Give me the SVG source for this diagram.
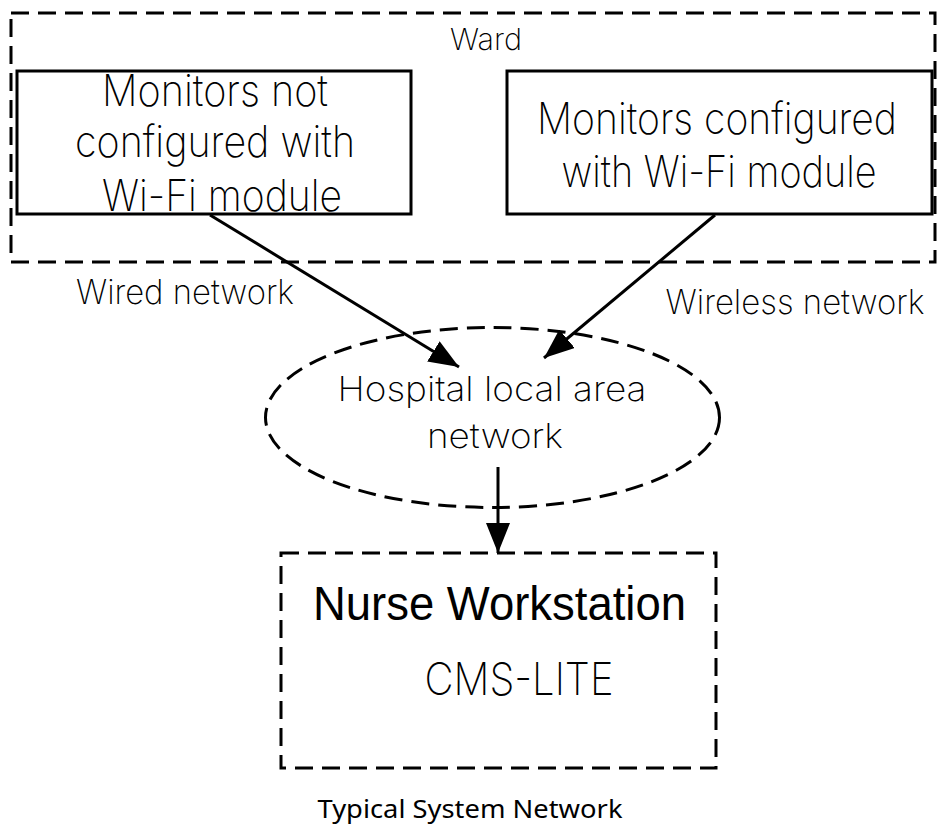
<svg xmlns="http://www.w3.org/2000/svg" width="938" height="830" viewBox="0 0 938 830">
<defs>
<style>
.dash{fill:none;stroke:#000;stroke-width:3;stroke-dasharray:18 9}
.box{fill:#fff;stroke:#000;stroke-width:3}
.t{font-family:Inter,"Liberation Sans",Arial,sans-serif;font-weight:200;fill:#000;text-anchor:middle}
.big{font-size:44px}
.mid{font-size:34px}
.line{stroke:#000;stroke-width:3;fill:none}
</style>
<marker id="arr" viewBox="0 0 30 24" refX="30" refY="12" markerWidth="30" markerHeight="24" orient="auto" markerUnits="userSpaceOnUse">
<path d="M0,0 L30,12 L0,24 Z" fill="#000"/>
</marker>
</defs>
<rect width="938" height="830" fill="#fff"/>
<g id="ward">
<rect class="dash" x="11" y="13" width="924" height="249"/>
<text class="t" x="486" y="50" font-size="30" textLength="72" lengthAdjust="spacingAndGlyphs">Ward</text>
</g>
<g id="monitors-wired">
<rect class="box" x="17" y="71" width="394" height="143"/>
<text class="t big" x="215" y="106" textLength="226" lengthAdjust="spacingAndGlyphs">Monitors not</text>
<text class="t big" x="215" y="157" textLength="280" lengthAdjust="spacingAndGlyphs">configured with</text>
<text class="t big" x="222" y="211" textLength="240" lengthAdjust="spacingAndGlyphs">Wi-Fi module</text>
</g>
<g id="monitors-wifi">
<rect class="box" x="507" y="71" width="425" height="143"/>
<text class="t big" x="717" y="134" textLength="360" lengthAdjust="spacingAndGlyphs">Monitors configured</text>
<text class="t big" x="719" y="187" textLength="315" lengthAdjust="spacingAndGlyphs">with Wi-Fi module</text>
</g>
<g id="lan">
<ellipse class="dash" cx="492.5" cy="417.5" rx="227" ry="90"/>
<text class="t mid" x="492" y="401" textLength="309" lengthAdjust="spacingAndGlyphs">Hospital local area</text>
<text class="t mid" x="495" y="448" textLength="136" lengthAdjust="spacingAndGlyphs">network</text>
</g>
<g id="nurse">
<rect class="dash" x="281" y="553" width="435" height="215"/>
<text x="499.5" y="620" font-family="'Liberation Sans',Arial,sans-serif" font-size="48" text-anchor="middle" fill="#000" textLength="373" lengthAdjust="spacingAndGlyphs">Nurse Workstation</text>
<text class="t" x="519" y="695" font-size="45" textLength="189" lengthAdjust="spacingAndGlyphs">CMS-LITE</text>
</g>
<g id="connectors">
<line class="line" x1="210" y1="215" x2="459" y2="367" marker-end="url(#arr)"/>
<line class="line" x1="715" y1="215" x2="544" y2="358" marker-end="url(#arr)"/>
<line class="line" x1="498" y1="467" x2="498" y2="553" marker-end="url(#arr)"/>
<text class="t mid" x="185" y="304" textLength="218" lengthAdjust="spacingAndGlyphs">Wired network</text>
<text class="t mid" x="795" y="314" textLength="259" lengthAdjust="spacingAndGlyphs">Wireless network</text>
</g>
<text x="470" y="818" font-family="'Noto Sans','Open Sans',sans-serif" font-size="25" text-anchor="middle" fill="#000" textLength="305" lengthAdjust="spacingAndGlyphs">Typical System Network</text>
</svg>
